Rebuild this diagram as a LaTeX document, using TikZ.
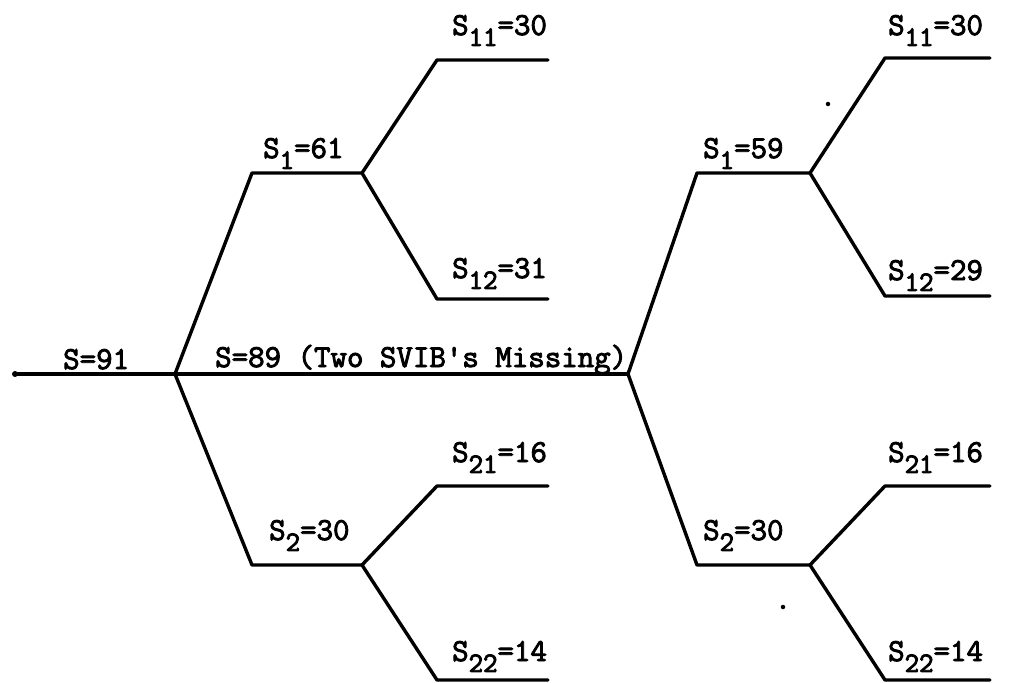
\documentclass[tikz,border=0pt]{standalone}
\newcommand\mysub[1]{\raisebox{-0.34em}{\fontsize{28}{30}\selectfont #1}}
\newcommand\heavy[1]{\special{pdf:literal direct 2 Tr 0.9 w}#1\special{pdf:literal direct 0 Tr}}
\begin{document}
\begin{tikzpicture}[x=1pt,y=-1pt,
  br/.style={line width=3.4pt,line join=round,line cap=round},
  lbl/.style={anchor=base west,inner sep=0pt,font=\fontsize{32}{36}\selectfont\ttfamily},
  speck/.style={fill=black,draw=none,circle,inner sep=0pt,minimum size=4.5pt}]
\useasboundingbox (0,0) rectangle (1010,683);
% left tree
\coordinate (A) at (15,374);
\coordinate (B) at (175,374);
\coordinate (C) at (628,374);
\coordinate (a1) at (252,173); \coordinate (P1) at (362,173);
\coordinate (a11) at (437,60);  \coordinate (e11) at (548,60);
\coordinate (a12) at (437,299); \coordinate (e12) at (548,299);
\coordinate (a2) at (252,565); \coordinate (P2) at (362,565);
\coordinate (a21) at (437,486); \coordinate (e21) at (548,486);
\coordinate (a22) at (437,680); \coordinate (e22) at (548,680);
% right tree
\coordinate (b1) at (697,173); \coordinate (Q1) at (810,173);
\coordinate (b11) at (885,58);  \coordinate (f11) at (990,58);
\coordinate (b12) at (885,296); \coordinate (f12) at (990,296);
\coordinate (b2) at (697,565); \coordinate (Q2) at (810,565);
\coordinate (b21) at (885,486); \coordinate (f21) at (990,486);
\coordinate (b22) at (885,680); \coordinate (f22) at (990,680);

\draw[br] (A) -- (B) -- (C);
\fill (A) circle (3pt);
\draw[br] (B) -- (a1) -- (P1);
\draw[br] (P1) -- (a11) -- (e11);
\draw[br] (P1) -- (a12) -- (e12);
\draw[br] (B) -- (a2) -- (P2);
\draw[br] (P2) -- (a21) -- (e21);
\draw[br] (P2) -- (a22) -- (e22);
\draw[br] (C) -- (b1) -- (Q1);
\draw[br] (Q1) -- (b11) -- (f11);
\draw[br] (Q1) -- (b12) -- (f12);
\draw[br] (C) -- (b2) -- (Q2);
\draw[br] (Q2) -- (b21) -- (f21);
\draw[br] (Q2) -- (b22) -- (f22);

% labels
\node[lbl] (l0) at (63,369) {\heavy{S=91}};
\node[lbl] (lm) at (215,367) {\heavy{S=89 (Two SVIB's Missing)}};
\node[lbl] (l1) at (263,158) {\heavy{S\mysub{1}=61}};
\node[lbl] (l11) at (452,35) {\heavy{S\mysub{11}=30}};
\node[lbl] (l12) at (452,278) {\heavy{S\mysub{12}=31}};
\node[lbl] (l2) at (269,540) {\heavy{S\mysub{2}=30}};
\node[lbl] (l21) at (452,462) {\heavy{S\mysub{21}=16}};
\node[lbl] (l22) at (452,661) {\heavy{S\mysub{22}=14}};
\node[lbl] (r1) at (703,158) {\heavy{S\mysub{1}=59}};
\node[lbl] (r11) at (888,35) {\heavy{S\mysub{11}=30}};
\node[lbl] (r12) at (888,280) {\heavy{S\mysub{12}=29}};
\node[lbl] (r2) at (703,540) {\heavy{S\mysub{2}=30}};
\node[lbl] (r21) at (888,462) {\heavy{S\mysub{21}=16}};
\node[lbl] (r22) at (888,661) {\heavy{S\mysub{22}=14}};

% specks
\node[speck] (d1) at (828,104) {};
\node[speck] (d2) at (783,607) {};
\end{tikzpicture}
\end{document}
